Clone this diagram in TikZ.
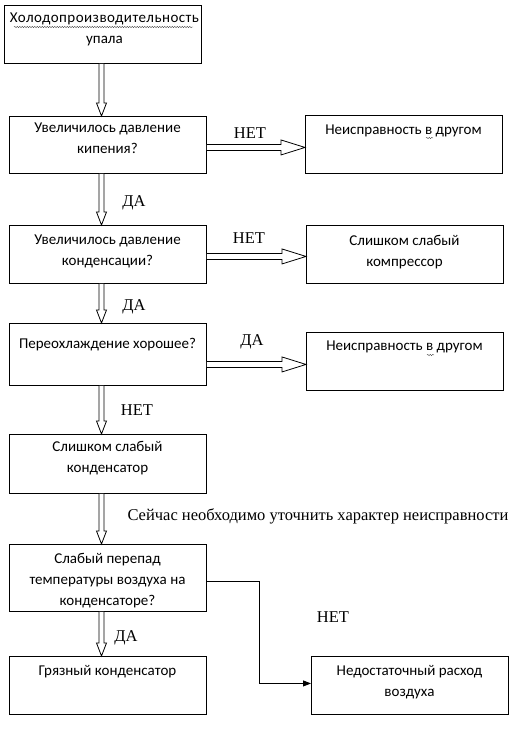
\documentclass[tikz,border=0pt]{standalone}
\usepackage{fontspec}
\setmainfont{Carlito}
\newfontfamily\serifface{Liberation Serif}
\newfontfamily\widecarlito[LetterSpace=3.1]{Carlito}
\usetikzlibrary{calc,arrows.meta,decorations.pathmorphing}
% vertical hollow arrow from bottom of #1 to top of #2 at fixed x
\newcommand\vhollow[2]{%
  \draw[hol] let \p1=(#1.south), \p2=(#2.north) in
    (99pt,\y1) -- (99pt,\y2+13pt) -- (96.5pt,\y2+13pt) -- (101.5pt,\y2)
    -- (106.5pt,\y2+13pt) -- (104pt,\y2+13pt) -- (104pt,\y1);}
% horizontal hollow arrow from right of #1 to left of #2, shifted down by #3
\newcommand\hhollow[3]{%
  \draw[hol] let \p1=(#1.east), \p2=(#2.west) in
    (\x1,\y1-#3+3pt) -- (\x2-24pt,\y1-#3+3pt) -- (\x2-24pt,\y1-#3+7.5pt) -- (\x2,\y1-#3)
    -- (\x2-24pt,\y1-#3-7.5pt) -- (\x2-24pt,\y1-#3-3pt) -- (\x1,\y1-#3-3pt);}
\begin{document}
\begin{tikzpicture}[x=1pt,y=-1pt,
  box/.style={draw, line width=0.9pt, anchor=north west, inner sep=0pt,
    minimum width=197pt, minimum height=58pt},
  txt/.style={font=\fontsize{15}{21}\selectfont, align=center, inner sep=0pt, anchor=north},
  lab/.style={font=\serifface\fontsize{16.5}{18}\selectfont, inner sep=0pt},
  hol/.style={draw, line width=0.8pt, fill=white, line join=miter},
  conn/.style={draw, line width=0.8pt},
  spell/.style={draw=black!70, line width=0.4pt, decorate,
    decoration={snake, amplitude=0.7pt, segment length=2.5pt}}]
\useasboundingbox[fill=white] (0,0) rectangle (518,730);

% boxes
\node[box] (b1) at (4,5) {};
\node[box, minimum height=57pt] (b2) at (9,116) {};
\node[box] (r1) at (305,115) {};
\node[box] (b3) at (9,225) {};
\node[box] (r2) at (306,225) {};
\node[box, minimum height=62pt] (b4) at (9,323) {};
\node[box] (r3) at (306,332) {};
\node[box, minimum height=59pt] (b5) at (9,434) {};
\node[box, minimum height=67pt] (b6) at (9,544) {};
\node[box] (b8) at (9,656) {};
\node[box] (b7) at (311,656) {};

% box texts
\node[txt] (t1) at (104.5,13) {{\widecarlito Холодопроизводительность}\\упала};
\node[txt] (t2) at (107.5,123) {Увеличилось давление\\кипения?};
\node[txt] (tr1) at (403.5,125) {Неисправность в другом};
\node[txt] (t3) at (107.5,235) {Увеличилось давление\\конденсации?};
\node[txt] (tr2) at (404.5,235) {Слишком слабый\\компрессор};
\node[txt] (t4) at (107.5,338) {Переохлаждение хорошее?};
\node[txt] (tr3) at (404.5,341) {Неисправность в другом};
\node[txt] (t5) at (107.5,441) {Слишком слабый\\конденсатор};
\node[txt] (t6) at (107.5,553) {Слабый перепад\\температуры воздуха на\\конденсаторе?};
\node[txt] (t8) at (107.5,665) {Грязный конденсатор};
\node[txt] (t7) at (409.5,665) {Недостаточный расход\\воздуха};

% spell-check underlines
\draw[spell] (14,27) -- (193,27);
\draw[spell] (426,138) -- (433,138);
\draw[spell] (427,355) -- (434,355);

% hollow arrows
\vhollow{b1}{b2}
\vhollow{b2}{b3}
\vhollow{b3}{b4}
\vhollow{b4}{b5}
\vhollow{b5}{b6}
\vhollow{b6}{b8}
\hhollow{b2}{r1}{2.5pt}
\hhollow{b3}{r2}{2pt}
\hhollow{b4}{r3}{10pt}

% thin connector
\draw[conn, -{Triangle[length=8pt,width=6pt]}] ([yshift=-3.5pt]b6.east) -- ++(52,0) |- ([yshift=2pt]b7.west);

% labels
\node[lab] (l1) at (250,133) {НЕТ};
\node[lab] (l2) at (249,238) {НЕТ};
\node[lab] (l3) at (252,342) {ДА};
\node[lab] (l4) at (134,203) {ДА};
\node[lab] (l5) at (134,307) {ДА};
\node[lab] (l6) at (137,410) {НЕТ};
\node[lab] (l7) at (318,516) {Сейчас необходимо уточнить характер неисправности};
\node[lab] (l8) at (126,638) {ДА};
\node[lab] (l9) at (333,617) {НЕТ};
\end{tikzpicture}
\end{document}
